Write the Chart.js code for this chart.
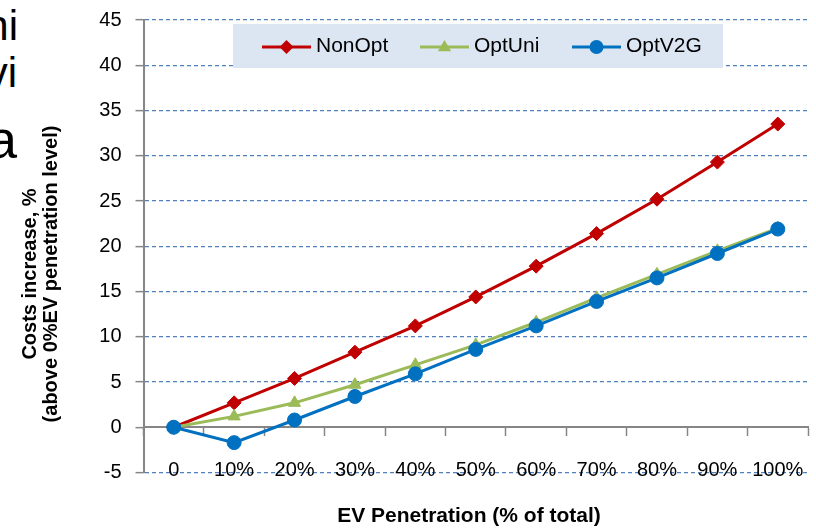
<!DOCTYPE html>
<html>
<head>
<meta charset="utf-8">
<script src="https://cdn.jsdelivr.net/npm/chart.js@4.4.1/dist/chart.umd.min.js"></script>
<style>
  html, body { margin: 0; padding: 0; background: #fff; }
  body { position: relative; width: 816px; height: 529px; overflow: hidden; font-family: "Liberation Sans", Arial, sans-serif; }
  #wrap { position: absolute; left: 0; top: 0; width: 816px; height: 529px; }
  .slide { position: absolute; right: 798px; color: #000; white-space: nowrap; line-height: 1; }
  .ytitle { position: absolute; left: 40px; top: 274px; width: 360px; transform: translate(-50%, -50%) rotate(-90deg);
            text-align: center; font-weight: bold; font-size: 20px; line-height: 21px; color: #000; white-space: nowrap; }
  .xtitle { position: absolute; left: 469px; top: 515px; transform: translate(-50%, -50%);
            font-weight: bold; font-size: 21px; color: #000; white-space: nowrap; }
</style>
</head>
<body>
<div class="slide" style="top:5px;font-size:42px;">ni</div>
<div class="slide" style="top:52px;font-size:42px;right:799px;">vi</div>
<div class="slide" style="top:112px;font-size:54px;right:799px;">a</div>
<div id="wrap"><canvas id="costChart" width="816" height="529"></canvas></div>
<div class="ytitle">Costs increase, %<br>(above 0%EV penetration level)</div>
<div class="xtitle">EV Penetration (% of total)</div>
<script>
const categories = ['0', '10%', '20%', '30%', '40%', '50%', '60%', '70%', '80%', '90%', '100%'];
const nonOpt = [0, 2.7, 5.4, 8.3, 11.2, 14.4, 17.8, 21.4, 25.2, 29.3, 33.5];
const optUni = [0, 1.2, 2.7, 4.7, 6.9, 9.1, 11.6, 14.3, 16.9, 19.5, 22.0];
const optV2G = [0, -1.7, 0.8, 3.4, 5.9, 8.6, 11.2, 13.9, 16.5, 19.2, 21.9];
const yMin = -5, yMax = 45, yStep = 5;

const axisGrey = '#868686';
const gridBlue = '#4F81BD';

function drawMarker(ctx, style, x, y, r, color) {
  ctx.fillStyle = color;
  ctx.beginPath();
  if (style === 'rectRot') {
    ctx.moveTo(x, y - r); ctx.lineTo(x + r, y); ctx.lineTo(x, y + r); ctx.lineTo(x - r, y);
  } else if (style === 'triangle') {
    ctx.moveTo(x, y - r); ctx.lineTo(x + r * 0.95, y + r * 0.6); ctx.lineTo(x - r * 0.95, y + r * 0.6);
  } else {
    ctx.arc(x, y, r, 0, Math.PI * 2);
  }
  ctx.closePath();
  ctx.fill();
}

// legend drawn inside the plot, like the excel one
const boxLegend = {
  id: 'boxLegend',
  afterDraw(chart, args, opts) {
    const ctx = chart.ctx;
    ctx.save();
    ctx.fillStyle = '#DCE6F2';
    ctx.fillRect(opts.left, opts.top, opts.width, opts.height);
    const cy = opts.top + opts.height / 2;
    ctx.font = '21px "Liberation Sans", Arial, sans-serif';
    ctx.textBaseline = 'middle';
    chart.data.datasets.forEach((ds, i) => {
      const x = opts.starts[i];
      ctx.strokeStyle = ds.borderColor;
      ctx.lineWidth = 3;
      ctx.beginPath();
      ctx.moveTo(x, cy + 1);
      ctx.lineTo(x + 49, cy + 1);
      ctx.stroke();
      drawMarker(ctx, ds.pointStyle, x + 24.5, cy + 1, 7, ds.borderColor);
      ctx.fillStyle = '#000';
      ctx.fillText(ds.label, x + 54, cy);
    });
    ctx.restore();
  }
};

const data = {
  labels: categories,
  datasets: [{
    label: 'NonOpt',
    data: nonOpt,
    borderColor: '#C00000',
    backgroundColor: '#C00000',
    pointStyle: 'rectRot',
    pointRadius: 7,
    order: 2
  }, {
    label: 'OptUni',
    data: optUni,
    borderColor: '#9BBB59',
    backgroundColor: '#9BBB59',
    pointStyle: 'triangle',
    pointRadius: 7,
    order: 1
  }, {
    label: 'OptV2G',
    data: optV2G,
    borderColor: '#0070C0',
    backgroundColor: '#0070C0',
    pointStyle: 'circle',
    pointRadius: 7,
    order: 0
  }]
};

const config = {
  type: 'line',
  data: data,
  plugins: [boxLegend],
  options: {
    responsive: false,
    animation: false,
    elements: {
      line: { borderWidth: 3, tension: 0 },
      point: { borderWidth: 1 }
    },
    layout: { padding: { top: 20, right: 1.5, left: 0, bottom: 0 } },
    scales: {
      x: {
        type: 'category',
        position: 'bottom',
        offset: true,
        grid: { display: false, drawTicks: false },
        border: { display: false },
        ticks: {
          mirror: true,
          padding: -9.5,
          color: '#000',
          maxRotation: 0,
          autoSkip: false,
          font: { family: '"Liberation Sans", Arial, sans-serif', size: 20 }
        },
        afterFit(s) { s.height = 56.5; s.paddingLeft = 0; s.paddingRight = 0; }
      },
      x2: {
        type: 'category',
        axis: 'x',
        position: { y: 0 },
        offset: true,
        ticks: { display: false },
        grid: {
          drawOnChartArea: false,
          offset: true,
          tickLength: 8,
          tickColor: axisGrey,
          tickWidth: 1.5
        },
        border: { color: axisGrey, width: 2 },
        afterFit(s) { s.height = 0; s.paddingLeft = 0; s.paddingRight = 0; }
      },
      y: {
        min: yMin,
        max: yMax,
        ticks: {
          stepSize: yStep,
          padding: 14,
          color: '#000',
          font: { family: '"Liberation Sans", Arial, sans-serif', size: 20 }
        },
        grid: {
          color: (c) => (c.tick && c.tick.value === 0) ? 'rgba(0,0,0,0)' : gridBlue,
          lineWidth: 1.3,
          tickLength: 8,
          tickColor: axisGrey,
          tickWidth: 1.5,
          tickBorderDash: []
        },
        border: { color: axisGrey, width: 2, dash: [4, 3] },
        afterFit(s) { s.width = 143.5; s.paddingTop = 0; s.paddingBottom = 0; }
      }
    },
    plugins: {
      legend: { display: false },
      tooltip: { enabled: false },
      boxLegend: { left: 233, top: 24, width: 490, height: 44, starts: [262, 420, 572] }
    }
  }
};

new Chart(document.getElementById('costChart'), config);
</script>
</body>
</html>
